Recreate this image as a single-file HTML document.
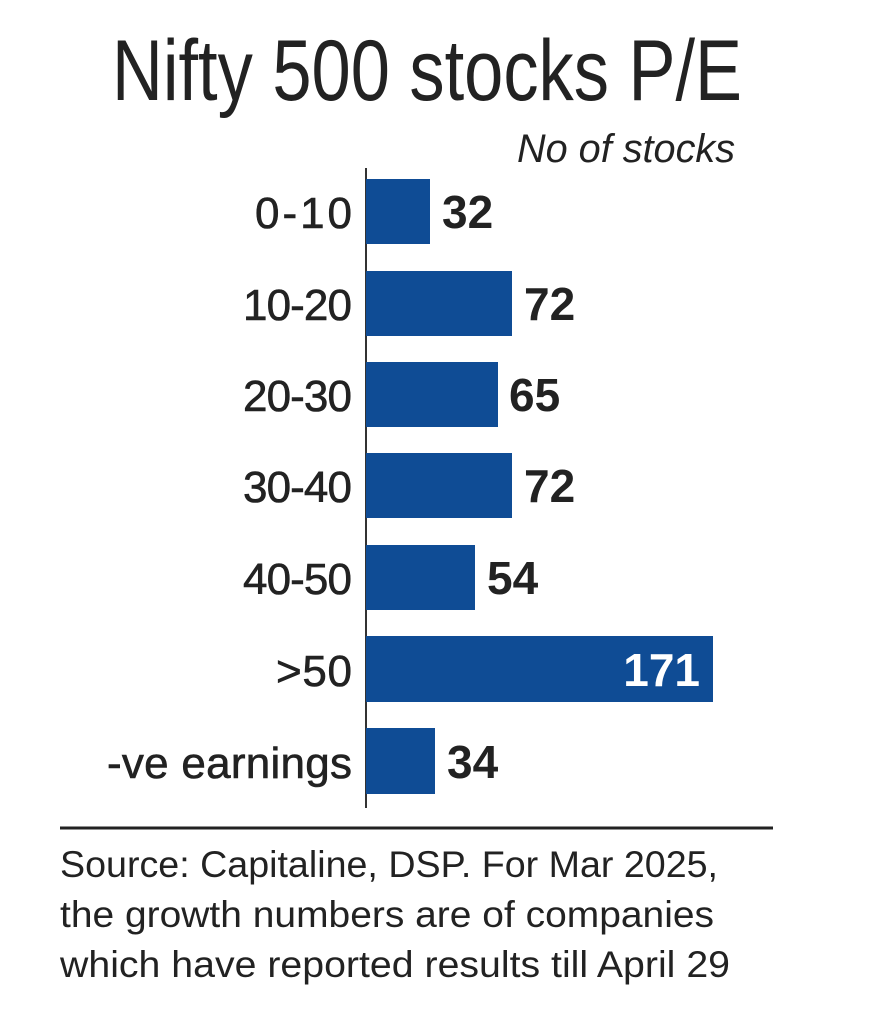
<!DOCTYPE html>
<html><head><meta charset="utf-8"><style>
html,body{margin:0;padding:0;background:#fff;}
svg{display:block}
text{font-family:"Liberation Sans Narrow","Liberation Sans",sans-serif;}
</style></head><body>
<svg width="873" height="1024" viewBox="0 0 873 1024" xmlns="http://www.w3.org/2000/svg">
<rect width="873" height="1024" fill="#fff"/>
<text x="112" y="100" font-size="86" fill="#222" textLength="630" lengthAdjust="spacingAndGlyphs">Nifty 500 stocks P/E</text>
<text x="517" y="162" font-size="40" font-style="italic" fill="#222" textLength="218" lengthAdjust="spacingAndGlyphs">No of stocks</text>
<line x1="366" y1="168" x2="366" y2="808" stroke="#333" stroke-width="2"/>
<g fill="#0f4c95">
<rect x="366" y="179" width="64" height="65"/>
<rect x="366" y="271" width="146" height="65"/>
<rect x="366" y="362" width="132" height="65"/>
<rect x="366" y="453" width="146" height="65"/>
<rect x="366" y="545" width="109" height="65"/>
<rect x="366" y="636" width="347" height="66"/>
<rect x="366" y="728" width="69" height="66"/>
</g>
<g font-size="44" fill="#222" stroke="#222" stroke-width="0.6" text-anchor="end" lengthAdjust="spacingAndGlyphs">
<text x="352" y="228" textLength="97">0-10</text>
<text x="352" y="320" textLength="109">10-20</text>
<text x="352" y="411" textLength="109">20-30</text>
<text x="352" y="502" textLength="109">30-40</text>
<text x="352" y="594" textLength="109">40-50</text>
<text x="352" y="686" textLength="76">&gt;50</text>
<text x="352" y="778" textLength="245">-ve earnings</text>
</g>
<g font-size="46" font-weight="bold" fill="#222">
<text x="442" y="228">32</text>
<text x="524" y="320">72</text>
<text x="509" y="411">65</text>
<text x="524" y="502">72</text>
<text x="487" y="594">54</text>
<text x="700" y="686" fill="#fff" text-anchor="end">171</text>
<text x="447" y="778">34</text>
</g>
<line x1="60" y1="828" x2="773" y2="828" stroke="#222" stroke-width="3"/>
<g font-size="37" fill="#222">
<text x="60" y="877" textLength="658" lengthAdjust="spacingAndGlyphs">Source: Capitaline, DSP. For Mar 2025,</text>
<text x="60" y="927" textLength="654" lengthAdjust="spacingAndGlyphs">the growth numbers are of companies</text>
<text x="60" y="977" textLength="670" lengthAdjust="spacingAndGlyphs">which have reported results till April 29</text>
</g>
</svg>
</body></html>
